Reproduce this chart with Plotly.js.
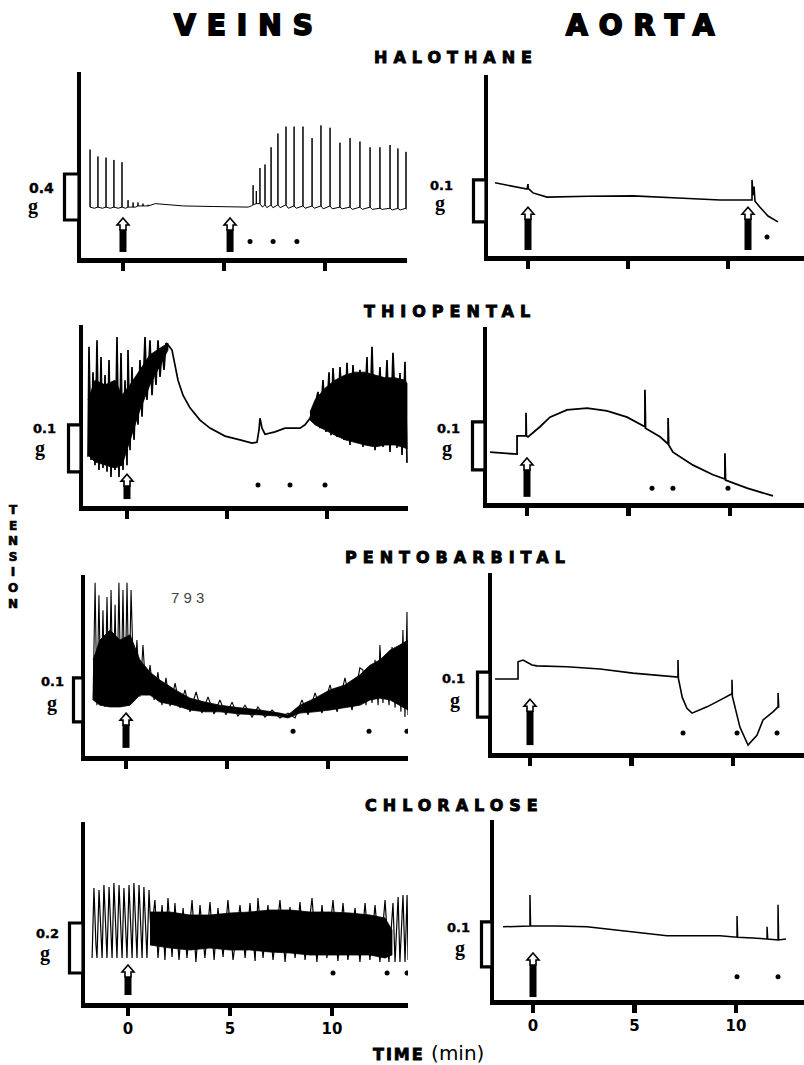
<!DOCTYPE html>
<html>
<head>
<meta charset="utf-8">
<script src="https://cdn.plot.ly/plotly-3.0.1.min.js"></script>
<style>html,body{margin:0;padding:0;background:#fff;}</style>
</head>
<body>
<div id="chart" style="width:804px;height:1065px;"></div>
<script>
// ================= DATA (time in min, tension in g) =================
const columnTitles = ['VEINS', 'AORTA'];
const drugNames = ['HALOTHANE', 'THIOPENTAL', 'PENTOBARBITAL', 'CHLORALOSE'];
const tickVals = [0, 5, 10];
const tickText = ['0', '5', '10'];
const scaleBarG = [0.4, 0.1, 0.1, 0.1, 0.1, 0.1, 0.2, 0.1];   // calibration bars per panel

// --- Halothane, veins: baseline points + vertical contraction spikes
const halVeinBaseT = [-1.63, -1.42, -1.02, -0.63, -0.24, 0.12, 0.37, 0.62, 0.87, 1.12, 1.6, 3.0, 4.5, 6.2, 6.35,
  6.9, 7.12, 7.42, 7.78, 8.18, 8.58, 9.02, 9.47, 9.91, 10.36, 10.85, 11.35, 11.84, 12.34, 12.83, 13.33, 13.72, 14.05];
const halVeinBaseG = [0.46, 0.45, 0.45, 0.45, 0.45, 0.45, 0.46, 0.46, 0.47, 0.47, 0.49, 0.47, 0.465, 0.46, 0.47,
  0.46, 0.455, 0.455, 0.455, 0.45, 0.45, 0.45, 0.45, 0.445, 0.445, 0.445, 0.44, 0.44, 0.44, 0.44, 0.435, 0.435, 0.44];
const halVeinSpikeT = [-1.63, -1.24, -0.84, -0.45, -0.05, 0.25, 0.50, 0.74, 0.99, 1.24, 6.44, 6.60, 6.78, 7.03, 7.33,
  7.67, 8.07, 8.47, 8.91, 9.36, 9.80, 10.25, 10.74, 11.24, 11.73, 12.23, 12.72, 13.22, 13.61, 14.01];
const halVeinSpikeBase = [0.46, 0.46, 0.46, 0.46, 0.46, 0.46, 0.46, 0.47, 0.47, 0.47, 0.48, 0.49, 0.49, 0.48, 0.48,
  0.48, 0.48, 0.47, 0.47, 0.47, 0.47, 0.47, 0.46, 0.46, 0.46, 0.46, 0.45, 0.45, 0.45, 0.45];
const halVeinSpikePeak = [0.96, 0.90, 0.89, 0.87, 0.85, 0.52, 0.50, 0.50, 0.49, 0.48, 0.65, 0.60, 0.80, 0.83, 0.98,
  1.10, 1.16, 1.16, 1.16, 1.06, 1.17, 1.15, 1.02, 1.06, 1.03, 0.98, 0.98, 1.00, 0.97, 0.94];
const halVeinArrows = [0, 5.3];
const halVeinDots = [6.29, 7.43, 8.61];

// --- Halothane, aorta
const halAorT = [-1.65, -0.05, 0, 0.02, 0.25, 0.95, 3.0, 5.25, 7.5, 9.6, 11.2, 11.2, 11.25, 11.3, 11.3, 11.35, 11.6, 12.0, 12.5];
const halAorG = [0.179, 0.164, 0.176, 0.165, 0.155, 0.145, 0.147, 0.148, 0.143, 0.138, 0.138, 0.186, 0.150, 0.160, 0.170, 0.135, 0.121, 0.100, 0.086];
const halAorArrows = [0, 11.0];
const halAorDots = [11.95];

// --- Thiopental, veins
const thioVeinT = [-1.95, -1.90, -1.80, -1.70, -1.60, -1.50, -1.40, -1.30, -1.20, -1.10, -1.00, -0.90, -0.80, -0.70,
  -0.60, -0.50, -0.40, -0.30, -0.20, -0.10, 0.00, 0.05, 0.15, 0.25, 0.35, 0.45, 0.55, 0.65, 0.75, 0.90, 1.00, 1.15,
  1.25, 1.35, 1.45, 1.55, 1.65, 1.75, 1.85, 1.95, 2.05,
  2.25, 2.55, 2.80, 3.15, 3.65, 4.15, 4.90, 5.65, 6.25, 6.50, 6.60, 6.65, 6.75, 6.90, 7.40, 7.90, 8.65, 8.90, 9.15,
  9.40, 9.55, 9.65, 9.80, 9.95, 10.10, 10.20, 10.30, 10.50, 10.65, 10.85, 11.00, 11.15, 11.30, 11.50, 11.65, 11.80,
  12.00, 12.10, 12.25, 12.40, 12.65, 12.80, 13.00, 13.15, 13.30, 13.50, 13.65, 13.75, 13.90, 14.00];
const thioVeinG = [0.109, 0.343, 0.102, 0.289, 0.091, 0.357, 0.081, 0.321, 0.085, 0.283, 0.077, 0.315, 0.066, 0.251,
  0.081, 0.364, 0.066, 0.330, 0.081, 0.272, 0.091, 0.336, 0.123, 0.300, 0.145, 0.262, 0.177, 0.315, 0.194, 0.364,
  0.230, 0.357, 0.240, 0.315, 0.262, 0.357, 0.279, 0.336, 0.294, 0.351, 0.347,
  0.336, 0.272, 0.240, 0.213, 0.187, 0.170, 0.153, 0.145, 0.138, 0.140, 0.166, 0.191, 0.170, 0.157, 0.162, 0.170, 0.170, 0.177, 0.191,
  0.220, 0.247, 0.170, 0.272, 0.162, 0.289, 0.155, 0.298, 0.151, 0.300, 0.145, 0.309, 0.134, 0.304, 0.140, 0.294,
  0.130, 0.321, 0.134, 0.343, 0.123, 0.300, 0.130, 0.315, 0.119, 0.330, 0.128, 0.287, 0.113, 0.311, 0.096];
const thioVeinBand1T = [-1.95, -1.60, -1.10, -0.60, -0.25, 0.15, 0.65, 1.15, 1.65, 2.05];
const thioVeinBand1Hi = [0.230, 0.272, 0.262, 0.272, 0.240, 0.262, 0.294, 0.326, 0.340, 0.351];
const thioVeinBand1Lo = [0.113, 0.098, 0.091, 0.085, 0.091, 0.145, 0.209, 0.262, 0.304, 0.336];
const thioVeinBand2T = [9.15, 9.40, 9.90, 10.40, 10.90, 11.40, 11.90, 12.40, 12.90, 13.40, 13.90, 14.00];
const thioVeinBand2Hi = [0.204, 0.230, 0.255, 0.272, 0.283, 0.289, 0.289, 0.283, 0.277, 0.277, 0.272, 0.265];
const thioVeinBand2Lo = [0.187, 0.177, 0.166, 0.155, 0.145, 0.140, 0.134, 0.130, 0.134, 0.134, 0.128, 0.125];
const thioVeinArrows = [0];
const thioVeinDots = [6.55, 8.15, 9.9];

// --- Thiopental, aorta
const thioAorT = [-1.82, -0.49, -0.49, -0.05, -0.05, -0.03, 0.05, 0.64, 1.13, 1.97, 2.96, 3.94, 4.93, 5.81, 5.81, 5.84,
  6.55, 6.95, 6.95, 6.98, 7.19, 8.18, 9.16, 9.75, 9.75, 9.78, 10.84, 12.12];
const thioAorG = [0.110, 0.106, 0.144, 0.144, 0.192, 0.144, 0.142, 0.163, 0.183, 0.198, 0.202, 0.196, 0.183, 0.163, 0.240, 0.160,
  0.142, 0.127, 0.181, 0.125, 0.110, 0.083, 0.063, 0.054, 0.108, 0.052, 0.035, 0.019];
const thioAorArrows = [0];
const thioAorDots = [6.16, 7.19, 9.90];

// --- Pentobarbital, veins
const pentoVeinT = [-1.63, -1.53, -1.44, -1.34, -1.24, -1.14, -1.04, -0.94, -0.84, -0.74, -0.64, -0.54, -0.45, -0.35,
  -0.25, -0.15, -0.05, 0.05, 0.15, 0.25, 0.40, 0.54, 0.69, 0.84, 0.99,
  1.19, 1.39, 1.58, 1.78, 1.98, 2.18, 2.43, 2.67, 2.92, 3.17, 3.47, 3.76, 4.06, 4.36, 4.65, 4.95, 5.25, 5.54, 5.89,
  6.24, 6.53, 6.88, 7.23, 7.62, 8.02, 8.37, 8.71, 9.01, 9.36, 9.70, 10.10, 10.45, 10.84, 11.19, 11.58,
  11.73, 11.88, 12.03, 12.18, 12.33, 12.48, 12.57, 12.72, 12.87, 13.02, 13.17, 13.32, 13.47, 13.61, 13.71, 13.81, 13.91, 13.96];
const pentoVeinG = [0.132, 0.398, 0.120, 0.370, 0.120, 0.336, 0.116, 0.366, 0.116, 0.382, 0.116, 0.348, 0.120, 0.398,
  0.116, 0.382, 0.120, 0.398, 0.132, 0.382, 0.139, 0.268, 0.139, 0.257, 0.143,
  0.211, 0.132, 0.195, 0.120, 0.182, 0.118, 0.170, 0.114, 0.155, 0.105, 0.150, 0.102, 0.139, 0.100, 0.132, 0.098,
  0.127, 0.095, 0.120, 0.093, 0.116, 0.093, 0.109, 0.091, 0.102, 0.091, 0.132, 0.098, 0.148, 0.102, 0.166, 0.105,
  0.182, 0.109, 0.205,
  0.200, 0.120, 0.207, 0.125, 0.223, 0.120, 0.257, 0.125, 0.234, 0.120, 0.252, 0.114, 0.245, 0.105, 0.291, 0.093, 0.332, 0.098];
const pentoVeinBandT = [-1.63, -1.29, -0.79, -0.30, 0.20, 0.69, 1.19, 1.68, 2.43, 3.17, 3.91, 4.65, 5.64, 6.63, 7.62,
  8.02, 8.61, 9.36, 10.10, 10.84, 11.58, 12.08, 12.57, 13.07, 13.56, 13.96];
const pentoVeinBandHi = [0.223, 0.268, 0.291, 0.268, 0.280, 0.223, 0.195, 0.177, 0.155, 0.136, 0.127, 0.120, 0.114,
  0.109, 0.102, 0.098, 0.120, 0.136, 0.155, 0.166, 0.189, 0.211, 0.223, 0.245, 0.257, 0.268];
const pentoVeinBandLo = [0.132, 0.120, 0.116, 0.116, 0.120, 0.143, 0.143, 0.127, 0.120, 0.109, 0.105, 0.105, 0.100,
  0.098, 0.095, 0.091, 0.102, 0.105, 0.109, 0.114, 0.120, 0.132, 0.136, 0.132, 0.120, 0.109];
const pentoVeinArrows = [0];
const pentoVeinDots = [8.27, 12.03, 13.91];

// --- Pentobarbital, aorta
const pentoAorT = [-1.72, -0.59, -0.59, -0.34, 0.10, 0.34, 1.82, 3.45, 5.07, 7.29, 7.29, 7.31, 7.50, 7.73, 7.98, 8.72,
  9.36, 9.95, 9.95, 9.97, 10.34, 10.74, 11.18, 11.48, 11.97, 12.22, 12.22, 12.25];
const pentoAorG = [0.169, 0.169, 0.207, 0.211, 0.200, 0.198, 0.196, 0.191, 0.182, 0.173, 0.211, 0.170, 0.128, 0.104, 0.093, 0.107,
  0.122, 0.136, 0.167, 0.130, 0.062, 0.022, 0.044, 0.078, 0.096, 0.107, 0.138, 0.105];
const pentoAorArrows = [0];
const pentoAorDots = [7.54, 10.20, 12.17];

// --- Chloralose, veins
const chlorVeinT = [-1.76, -1.67, -1.57, -1.52, -1.42, -1.32, -1.27, -1.18, -1.08, -1.03, -0.93, -0.83, -0.78, -0.69,
  -0.59, -0.54, -0.44, -0.34, -0.29, -0.20, -0.10, -0.05, 0.05, 0.15, 0.20, 0.29, 0.39, 0.44, 0.54, 0.64, 0.69, 0.78,
  0.88, 0.93, 1.03, 1.13,
  1.32, 1.47, 1.67, 1.81, 1.96, 2.16, 2.30, 2.50, 2.70, 2.89, 3.14, 3.33, 3.53, 3.77, 4.02, 4.22, 4.41, 4.66, 4.90,
  5.15, 5.49, 5.74, 5.98, 6.23, 6.37, 6.62, 6.86, 7.11, 7.45, 7.70, 7.94, 8.19, 8.43, 8.68, 9.02, 9.26, 9.51, 9.75,
  10.05, 10.29, 10.54, 10.78, 11.13, 11.37, 11.62, 11.86, 12.11, 12.35, 12.60, 12.79,
  12.99, 13.09, 13.24, 13.33, 13.48, 13.58, 13.68, 13.73];
const chlorVeinG = [0.188, 0.468, 0.240, 0.188, 0.460, 0.240, 0.188, 0.480, 0.240, 0.188, 0.472, 0.240, 0.188, 0.488,
  0.240, 0.188, 0.480, 0.240, 0.188, 0.468, 0.240, 0.188, 0.480, 0.240, 0.188, 0.488, 0.240, 0.188, 0.480, 0.240,
  0.188, 0.472, 0.240, 0.188, 0.460, 0.280,
  0.42, 0.188, 0.40, 0.18, 0.428, 0.192, 0.408, 0.18, 0.388, 0.188, 0.42, 0.172, 0.40, 0.188, 0.412, 0.18, 0.388,
  0.192, 0.42, 0.18, 0.40, 0.188, 0.408, 0.176, 0.428, 0.188, 0.40, 0.18, 0.42, 0.172, 0.392, 0.188, 0.412, 0.18,
  0.428, 0.172, 0.40, 0.188, 0.42, 0.176, 0.408, 0.18, 0.388, 0.172, 0.408, 0.18, 0.40, 0.172, 0.42, 0.172,
  0.408, 0.172, 0.432, 0.172, 0.44, 0.172, 0.44, 0.18];
const chlorVeinBandT = [1.08, 2.06, 3.04, 4.02, 5.00, 5.98, 6.96, 7.94, 8.92, 9.90, 10.88, 11.86, 12.60, 12.94];
const chlorVeinBandHi = [0.372, 0.372, 0.36, 0.36, 0.368, 0.372, 0.38, 0.38, 0.372, 0.372, 0.368, 0.36, 0.348, 0.30];
const chlorVeinBandLo = [0.24, 0.228, 0.22, 0.228, 0.22, 0.22, 0.212, 0.208, 0.20, 0.20, 0.20, 0.20, 0.188, 0.20];
const chlorVeinArrows = [0];
const chlorVeinDots = [10.05, 12.70, 13.68];

// --- Chloralose, aorta
const chlorAorT = [-1.48, -0.15, -0.15, -0.12, 0, 1.18, 2.66, 3.94, 5.27, 6.60, 7.88, 9.21, 10.05, 10.05, 10.08, 10.84,
  11.53, 11.53, 11.56, 12.07, 12.07, 12.10, 12.46];
const chlorAorG = [0.167, 0.169, 0.238, 0.169, 0.169, 0.169, 0.167, 0.160, 0.153, 0.147, 0.147, 0.147, 0.144, 0.191, 0.144, 0.142,
  0.140, 0.167, 0.140, 0.138, 0.216, 0.138, 0.140];
const chlorAorArrows = [0];
const chlorAorDots = [10.05, 12.07];

// ================= LAYOUT CALIBRATION (pixels) =================
const W = 804, H = 1065;
// L/R/T/B: axis box; a: px of t=0; s: px per min; k: px per g; barL: left edge of calibration bar
const panels = [
  {L:79,  R:407, T:72,  B:260,  a:123, s:20.2, k:115, barL:63,  barBase:0.348, arrowTop:0.365, arrowBot:0.07,  dotY:0.16,  num:[41,188], gl:[33,206], numSize:14, lw:1.0},
  {L:486, R:804, T:75,  B:258,  a:528, s:20.0, k:420, barL:472, barBase:0.086, arrowTop:0.121, arrowBot:0.019, dotY:0.05,  num:[441,185], gl:[440,203], numSize:13, lw:1.6},
  {L:81,  R:408, T:325, B:508,  a:127, s:20.0, k:470, barL:67,  barBase:0.077, arrowTop:0.072, arrowBot:0.019, dotY:0.049, num:[44,428], gl:[40,449], numSize:13, lw:1.7},
  {L:485, R:804, T:327, B:505,  a:527, s:20.3, k:480, barL:471, barBase:0.073, arrowTop:0.098, arrowBot:0.017, dotY:0.035, num:[448,428], gl:[447,449], numSize:13, lw:1.8},
  {L:83,  R:408, T:575, B:758,  a:126, s:20.2, k:440, barL:72,  barBase:0.082, arrowTop:0.102, arrowBot:0.023, dotY:0.061, num:[52,681], gl:[52,703], numSize:13, lw:1.1},
  {L:490, R:804, T:573, B:755,  a:530, s:20.3, k:450, barL:476, barBase:0.084, arrowTop:0.124, arrowBot:0.022, dotY:0.049, num:[453,678], gl:[455,700], numSize:13, lw:1.6},
  {L:83,  R:408, T:822, B:1005, a:128, s:20.4, k:250, barL:68,  barBase:0.128, arrowTop:0.16,  arrowBot:0.04,  dotY:0.128, num:[47,933], gl:[45,953], numSize:13, lw:1.2},
  {L:492, R:804, T:820, B:1002, a:533, s:20.3, k:450, barL:480, barBase:0.078, arrowTop:0.109, arrowBot:0.011, dotY:0.056, num:[458,927], gl:[460,948], numSize:13, lw:1.5}
];

function spikeLine(baseT, baseG, spT, spB, spP) {
  const pts = baseT.map((t, i) => ({t: t, g: baseG[i], o: 0}));
  spT.forEach((t, i) => {
    pts.push({t: t, g: spB[i], o: 1}, {t: t, g: spP[i], o: 2}, {t: t, g: spB[i], o: 3});
  });
  pts.sort((p, q) => (p.t - q.t) || (p.o - q.o));
  return {x: pts.map(p => p.t), y: pts.map(p => p.g)};
}

const halVein = spikeLine(halVeinBaseT, halVeinBaseG, halVeinSpikeT, halVeinSpikeBase, halVeinSpikePeak);

const panelData = [
  {lines: [[halVein.x, halVein.y]], bands: [], arrows: halVeinArrows, dots: halVeinDots},
  {lines: [[halAorT, halAorG]], bands: [], arrows: halAorArrows, dots: halAorDots},
  {lines: [[thioVeinT, thioVeinG]], bands: [[thioVeinBand1T, thioVeinBand1Hi, thioVeinBand1Lo], [thioVeinBand2T, thioVeinBand2Hi, thioVeinBand2Lo]], arrows: thioVeinArrows, dots: thioVeinDots},
  {lines: [[thioAorT, thioAorG]], bands: [], arrows: thioAorArrows, dots: thioAorDots},
  {lines: [[pentoVeinT, pentoVeinG]], bands: [[pentoVeinBandT, pentoVeinBandHi, pentoVeinBandLo]], arrows: pentoVeinArrows, dots: pentoVeinDots},
  {lines: [[pentoAorT, pentoAorG]], bands: [], arrows: pentoAorArrows, dots: pentoAorDots},
  {lines: [[chlorVeinT, chlorVeinG]], bands: [[chlorVeinBandT, chlorVeinBandHi, chlorVeinBandLo]], arrows: chlorVeinArrows, dots: chlorVeinDots},
  {lines: [[chlorAorT, chlorAorG]], bands: [], arrows: chlorAorArrows, dots: chlorAorDots}
];

const traces = [];
const layout = {
  width: W, height: H,
  margin: {l: 0, r: 0, t: 0, b: 0},
  paper_bgcolor: '#fff', plot_bgcolor: '#fff',
  showlegend: false,
  font: {family: 'DejaVu Sans, sans-serif', color: '#000'},
  shapes: [], annotations: []
};

panels.forEach((P, i) => {
  const n = i + 1, sfx = n === 1 ? '' : String(n);
  const xa = 'x' + sfx, ya = 'y' + sfx;
  layout['xaxis' + sfx] = {
    domain: [(P.L + 2) / W, P.R / W],
    range: [(P.L + 2 - P.a) / P.s, (P.R - P.a) / P.s],
    anchor: ya, showline: true, linewidth: 4.5, linecolor: '#000',
    showgrid: false, zeroline: false,
    ticks: 'outside', tickmode: 'array', tickvals: tickVals, ticktext: tickText,
    ticklen: 8, tickwidth: 4.5, tickcolor: '#000',
    showticklabels: i >= 6,
    tickfont: {family: 'DejaVu Sans, sans-serif', size: 15, weight: 'bold', color: '#000'},
    fixedrange: true
  };
  layout['yaxis' + sfx] = {
    domain: [1 - (P.B - 2) / H, 1 - P.T / H],
    range: [2 / P.k, (P.B - P.T) / P.k],
    anchor: xa, showline: true, linewidth: 4.5, linecolor: '#000',
    showgrid: false, zeroline: false, ticks: '', showticklabels: false,
    fixedrange: true
  };

  const D = panelData[i];
  D.bands.forEach(b => {
    traces.push({
      type: 'scatter', mode: 'lines', xaxis: xa, yaxis: ya, hoverinfo: 'skip',
      x: b[0].concat(b[0].slice().reverse()),
      y: b[1].concat(b[2].slice().reverse()),
      fill: 'toself', fillcolor: '#000', line: {color: '#000', width: 0.8}
    });
  });
  D.lines.forEach(l => {
    traces.push({
      type: 'scatter', mode: 'lines', xaxis: xa, yaxis: ya, hoverinfo: 'skip',
      x: l[0], y: l[1], line: {color: '#000', width: P.lw}
    });
  });
  traces.push({
    type: 'scatter', mode: 'markers', xaxis: xa, yaxis: ya, hoverinfo: 'skip',
    x: D.dots, y: D.dots.map(() => P.dotY),
    marker: {color: '#000', size: 5}
  });

  // calibration bar
  layout.shapes.push({
    type: 'rect', xref: 'paper', yref: ya,
    x0: (P.barL + 1.5) / W, x1: P.L / W,
    y0: P.barBase, y1: P.barBase + scaleBarG[i],
    line: {color: '#000', width: 3.2}, fillcolor: '#fff'
  });
  layout.annotations.push({
    xref: 'paper', yref: 'paper', x: P.num[0] / W, y: 1 - P.num[1] / H,
    xanchor: 'center', yanchor: 'middle', showarrow: false,
    text: '<span style="stroke:#000;stroke-width:0.4px">' + String(scaleBarG[i]) + '</span>',
    font: {family: 'DejaVu Sans, sans-serif', size: P.numSize, weight: 'bold', color: '#000'}
  });
  layout.annotations.push({
    xref: 'paper', yref: 'paper', x: P.gl[0] / W, y: 1 - P.gl[1] / H,
    xanchor: 'center', yanchor: 'middle', showarrow: false,
    text: 'g',
    font: {family: 'Liberation Serif, serif', size: 20, weight: 'bold', color: '#000'}
  });

  // injection arrows (hollow head, solid shaft)
  const dx = 1 / P.s, dy = 1 / P.k;
  D.arrows.forEach(t => {
    const top = P.arrowTop, hw = 6 * dx, nw = 3 * dx, hh = 7 * dy, nh = 12 * dy;
    layout.shapes.push({
      type: 'rect', xref: xa, yref: ya,
      x0: t - 3.5 * dx, x1: t + 3.5 * dx, y0: P.arrowBot, y1: top - nh + 0.5 * dy,
      line: {width: 0}, fillcolor: '#000'
    });
    layout.shapes.push({
      type: 'path', xref: xa, yref: ya,
      path: 'M ' + t + ',' + top +
        ' L ' + (t + hw) + ',' + (top - hh) +
        ' L ' + (t + nw) + ',' + (top - hh) +
        ' L ' + (t + nw) + ',' + (top - nh) +
        ' L ' + (t - nw) + ',' + (top - nh) +
        ' L ' + (t - nw) + ',' + (top - hh) +
        ' L ' + (t - hw) + ',' + (top - hh) + ' Z',
      line: {color: '#000', width: 1.6}, fillcolor: '#fff'
    });
  });
});

// Titles
const colTitleX = [249, 645];
columnTitles.forEach((t, i) => {
  layout.annotations.push({
    xref: 'paper', yref: 'paper', x: colTitleX[i] / W, y: 1 - 25 / H,
    xanchor: 'center', yanchor: 'middle', showarrow: false,
    text: '<span style="letter-spacing:11px;stroke:#000;stroke-width:1.8px">' + t + '</span>',
    font: {family: 'DejaVu Sans, sans-serif', size: 28, weight: 'bold', color: '#000'}
  });
});
const drugX = [456, 450, 458, 455], drugY = [57, 311, 557, 805];
drugNames.forEach((t, i) => {
  layout.annotations.push({
    xref: 'paper', yref: 'paper', x: drugX[i] / W, y: 1 - drugY[i] / H,
    xanchor: 'center', yanchor: 'middle', showarrow: false,
    text: '<span style="letter-spacing:6px;stroke:#000;stroke-width:0.9px">' + t + '</span>',
    font: {family: 'DejaVu Sans, sans-serif', size: 16, weight: 'bold', color: '#000'}
  });
});
// Y label (stacked letters)
layout.annotations.push({
  xref: 'paper', yref: 'paper', x: 13 / W, y: 1 - 557 / H,
  xanchor: 'center', yanchor: 'middle', showarrow: false,
  text: '<span style="stroke:#000;stroke-width:0.7px">' + 'TENSION'.split('').join('<br>') + '</span>',
  font: {family: 'DejaVu Sans, sans-serif', size: 12, weight: 'bold', color: '#000'}
});
// X label
layout.annotations.push({
  xref: 'paper', yref: 'paper', x: 428 / W, y: 1 - 1053 / H,
  xanchor: 'center', yanchor: 'middle', showarrow: false,
  text: '<span style="font-weight:bold;font-size:16px;letter-spacing:2px;stroke:#000;stroke-width:0.8px">TIME</span> (min)',
  font: {family: 'DejaVu Sans, sans-serif', size: 20, color: '#000'}
});
// stray label on the pentobarbital vein record
layout.annotations.push({
  xref: 'paper', yref: 'paper', x: 187 / W, y: 1 - 597 / H,
  xanchor: 'center', yanchor: 'middle', showarrow: false,
  text: '7 9 3',
  font: {family: 'Liberation Sans, sans-serif', size: 15, color: '#444'}
});

Plotly.newPlot('chart', traces, layout, {staticPlot: true, displayModeBar: false});
</script>
</body>
</html>
